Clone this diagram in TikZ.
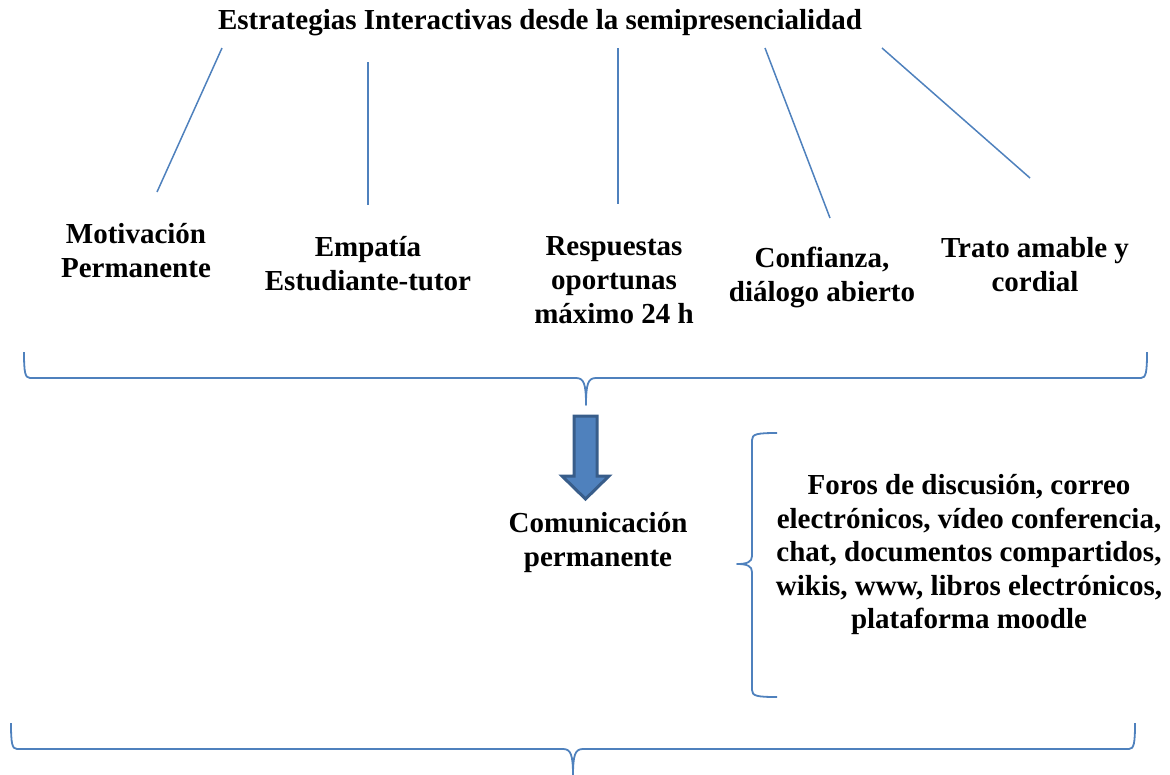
\documentclass[tikz,border=0pt]{standalone}
\usepackage{fontspec}
\setmainfont{Liberation Serif}
\definecolor{lineblue}{HTML}{4F81BD}
\definecolor{arrowedge}{HTML}{385D8A}
\begin{document}
\begin{tikzpicture}[x=1pt,y=-1pt,
  lbl/.style={font=\fontsize{29}{34}\selectfont\bfseries, align=center, inner sep=0pt},
  conn/.style={draw=lineblue, line width=1.5pt},
  brace/.style={draw=lineblue, line width=1.8pt, line join=round}]
\useasboundingbox (0,0) rectangle (1170,774);
\node[lbl] (title) at (540,23) {Estrategias Interactivas desde la semipresencialidad};
\node[lbl] (n1) at (136,251) {Motivación\\Permanente};
\node[lbl] (n2) at (368,264) {Empatía\\Estudiante-tutor};
\node[lbl] (n3) at (614,280) {Respuestas\\oportunas\\máximo 24 h};
\node[lbl] (n4) at (822,277) {Confianza,\\diálogo abierto};
\node[lbl] (n5) at (1035,265) {Trato amable y\\cordial};
\node[lbl] (com) at (598,543) {Comunicación\\permanente};
\node[lbl, font=\fontsize{29}{33.5}\selectfont\bfseries] (tools) at (969,555) {Foros de discusión, correo\\electrónicos, vídeo conferencia,\\chat, documentos compartidos,\\wikis, www, libros electrónicos,\\plataforma moodle};
% connectors
\coordinate (a1) at (222,48); \coordinate (b1) at (157,192);
\coordinate (a2) at (368,62); \coordinate (b2) at (368,205);
\coordinate (a3) at (618,48); \coordinate (b3) at (618,204);
\coordinate (a4) at (765,48); \coordinate (b4) at (830,218);
\coordinate (a5) at (882,48); \coordinate (b5) at (1030,178);
\foreach \i in {1,...,5} \draw[conn] (a\i) -- (b\i);
% brace 1
\draw[brace] (24,352) .. controls (24,372) and (25,378) .. (30,378) -- (576,378)
  .. controls (584,378) and (586,384) .. (586,405)
  .. controls (586,384) and (588,378) .. (596,378) -- (1141,378)
  .. controls (1146,378) and (1147,372) .. (1147,352);
% arrow
\draw[fill=lineblue, draw=arrowedge, line width=3pt, line join=miter]
  (574,416) -- (597,416) -- (597,476) -- (609,476) -- (585.5,499) -- (562,476) -- (574,476) -- cycle;
% right brace
\draw[brace] (777,433) .. controls (757,433) and (752,434) .. (752,440) -- (752,556)
  .. controls (752,562) and (747,564) .. (737,564)
  .. controls (747,564) and (752,566) .. (752,572) -- (752,690)
  .. controls (752,696) and (757,697) .. (777,697);
% bottom brace
\draw[brace] (11,723) .. controls (11,743) and (12,749) .. (17,749) -- (563,749)
  .. controls (571,749) and (573,755) .. (573,776)
  .. controls (573,755) and (575,749) .. (583,749) -- (1129,749)
  .. controls (1134,749) and (1135,743) .. (1135,723);
\end{tikzpicture}
\end{document}
